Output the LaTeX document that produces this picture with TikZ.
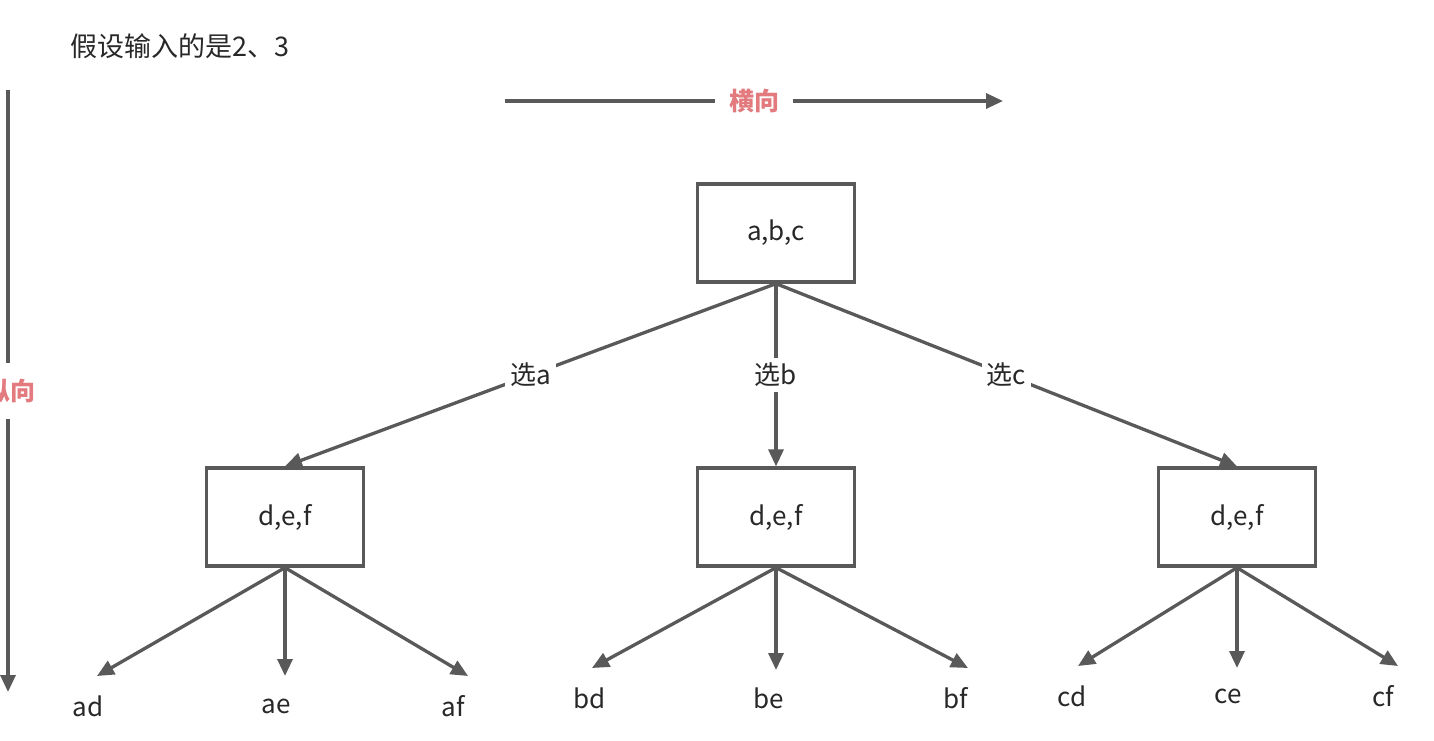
\documentclass[tikz,border=0pt]{standalone}
\usepackage{fontspec}
\setmainfont{Noto Sans CJK SC}
\usetikzlibrary{arrows.meta}
\definecolor{linegray}{RGB}{89,89,89}
\definecolor{txtgray}{RGB}{40,40,40}
\definecolor{hint}{RGB}{226,122,126}
\tikzset{box/.style = {draw=linegray, line width=3.3pt, minimum width=157pt,
                       minimum height=98pt, text=txtgray,
                       font=\fontsize{26}{30}\selectfont},
         arr/.style = {draw=linegray, line width=3.3pt,
                       -{Triangle[length=17pt,width=15pt]}},
         lbl/.style = {text=txtgray, font=\fontsize{26}{30}\selectfont},
         tag/.style = {lbl, fill=white, inner sep=5pt},
         dir/.style = {text=hint, fill=white, inner xsep=14pt, inner ysep=16pt,
                       font=\bfseries\fontsize{25}{30}\selectfont}}

\begin{document}
\begin{tikzpicture}[x=1pt, y=-1pt]
    \useasboundingbox [fill=white] (0, 0) rectangle (1434, 741);
    \node [lbl, anchor=west, font=\fontsize{27}{32}\selectfont]
        (title) at (67, 46) {假设输入的是2、3};

    % direction arrows
    \coordinate (hstart) at (505, 101);
    \coordinate (hend) at (1003, 101);
    \draw [arr] (hstart) -- node [dir] (horiz) {横向} (hend);
    \coordinate (vstart) at (8, 90);
    \coordinate (vend) at (8, 692);
    \draw [arr] (vstart) -- node [dir, xshift=3pt] (vert) {纵向} (vend);

    % tree
    \node [box] (root) at (776, 233) {a,b,c};
    \node [box] (left) at (285, 517) {d,e,f};
    \node [box] (mid) at (776, 517) {d,e,f};
    \node [box] (right) at (1237, 517) {d,e,f};
    \draw [arr] (root.south) -- node [tag] (picka) {选a} (left.north);
    \draw [arr] (root.south) -- node [tag] (pickb) {选b} (mid.north);
    \draw [arr] (root.south) -- node [tag] (pickc) {选c} (right.north);

    % leaves
    \coordinate (tad) at (97, 676);
    \coordinate (tae) at (285, 676);
    \coordinate (taf) at (468, 676);
    \coordinate (tbd) at (592, 668);
    \coordinate (tbe) at (776, 670);
    \coordinate (tbf) at (968, 668);
    \coordinate (tcd) at (1078, 666);
    \coordinate (tce) at (1237, 668);
    \coordinate (tcf) at (1398, 666);
    \node [lbl] (ad) at (88, 706) {ad};
    \node [lbl] (ae) at (276, 706) {ae};
    \node [lbl] (af) at (453, 706) {af};
    \node [lbl] (bd) at (590, 698) {bd};
    \node [lbl] (be) at (769, 698) {be};
    \node [lbl] (bf) at (956, 698) {bf};
    \node [lbl] (cd) at (1072, 696) {cd};
    \node [lbl] (ce) at (1228, 696) {ce};
    \node [lbl] (cf) at (1383, 696) {cf};
    \draw [arr] (left.south) -- (tad);
    \draw [arr] (left.south) -- (tae);
    \draw [arr] (left.south) -- (taf);
    \draw [arr] (mid.south) -- (tbd);
    \draw [arr] (mid.south) -- (tbe);
    \draw [arr] (mid.south) -- (tbf);
    \draw [arr] (right.south) -- (tcd);
    \draw [arr] (right.south) -- (tce);
    \draw [arr] (right.south) -- (tcf);
\end{tikzpicture}
\end{document}
